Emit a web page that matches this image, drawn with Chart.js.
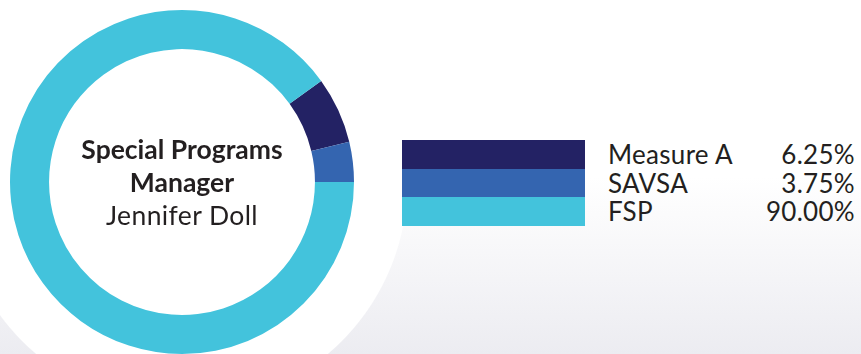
<!DOCTYPE html>
<html>
<head>
<meta charset="utf-8">
<script src="https://cdn.jsdelivr.net/npm/chart.js@4/dist/chart.umd.min.js"></script>
<style>
  html, body { margin: 0; padding: 0; }
  body {
    width: 861px; height: 354px; overflow: hidden; position: relative;
    font-family: "Lato", "Open Sans", sans-serif; color: #231f20;
    background:
      radial-gradient(circle at 182px 182px, #fff 0, #fff 225px, rgba(255,255,255,0) 226px),
      linear-gradient(to bottom, #fff 0%, #fff 50%, #ececf1 100%);
  }
  #wrap { position: absolute; left: 0; top: 0; width: 364px; height: 364px; }
  #center {
    position: absolute; left: 0; top: 133px; width: 364px; text-align: center;
    font-size: 26.5px; line-height: 33px; white-space: nowrap;
  }
  #center b { font-weight: 700; }
  #center span { letter-spacing: 0.4px; }
  #legend { position: absolute; left: 402px; top: 140px; }
  .row { position: relative; height: 28.5px; }
  .sw { position: absolute; left: 0; top: 0; width: 183px; height: 29px; }
  .lab, .val {
    position: absolute; top: 0; font-size: 26px; line-height: 29px;
    white-space: nowrap; letter-spacing: 0.3px;
  }
  .lab { left: 206px; }
  .val { right: -453px; text-align: right; }
</style>
</head>
<body>
<div id="wrap"><canvas id="donut" width="364" height="364"></canvas></div>
<div id="center"><b>Special Programs<br>Manager</b><br><span>Jennifer Doll</span></div>
<div id="legend"></div>
<script>
// funding sources for the program
const labels = ["Measure A", "SAVSA", "FSP"];
const shares = [6.25, 3.75, 90.0];
const colors = ["#232264", "#3465b0", "#43c3dc"];

new Chart(document.getElementById("donut"), {
  type: "doughnut",
  data: {
    labels: labels,
    datasets: [{ data: shares, backgroundColor: colors, borderWidth: 0 }],
  },
  options: {
    responsive: false,
    animation: false,
    rotation: 54,
    cutout: "77.3%",
    layout: { padding: 10 },
    plugins: { legend: { display: false }, tooltip: { enabled: false } },
  },
});

const legend = document.getElementById("legend");
labels.forEach((name, i) => {
  const row = document.createElement("div");
  row.className = "row";
  row.innerHTML = `
    <div class="sw" style="background:${colors[i]}"></div>
    <div class="lab">${name}</div>
    <div class="val">${shares[i].toFixed(2)}%</div>
  `;
  legend.appendChild(row);
});
</script>
</body>
</html>
